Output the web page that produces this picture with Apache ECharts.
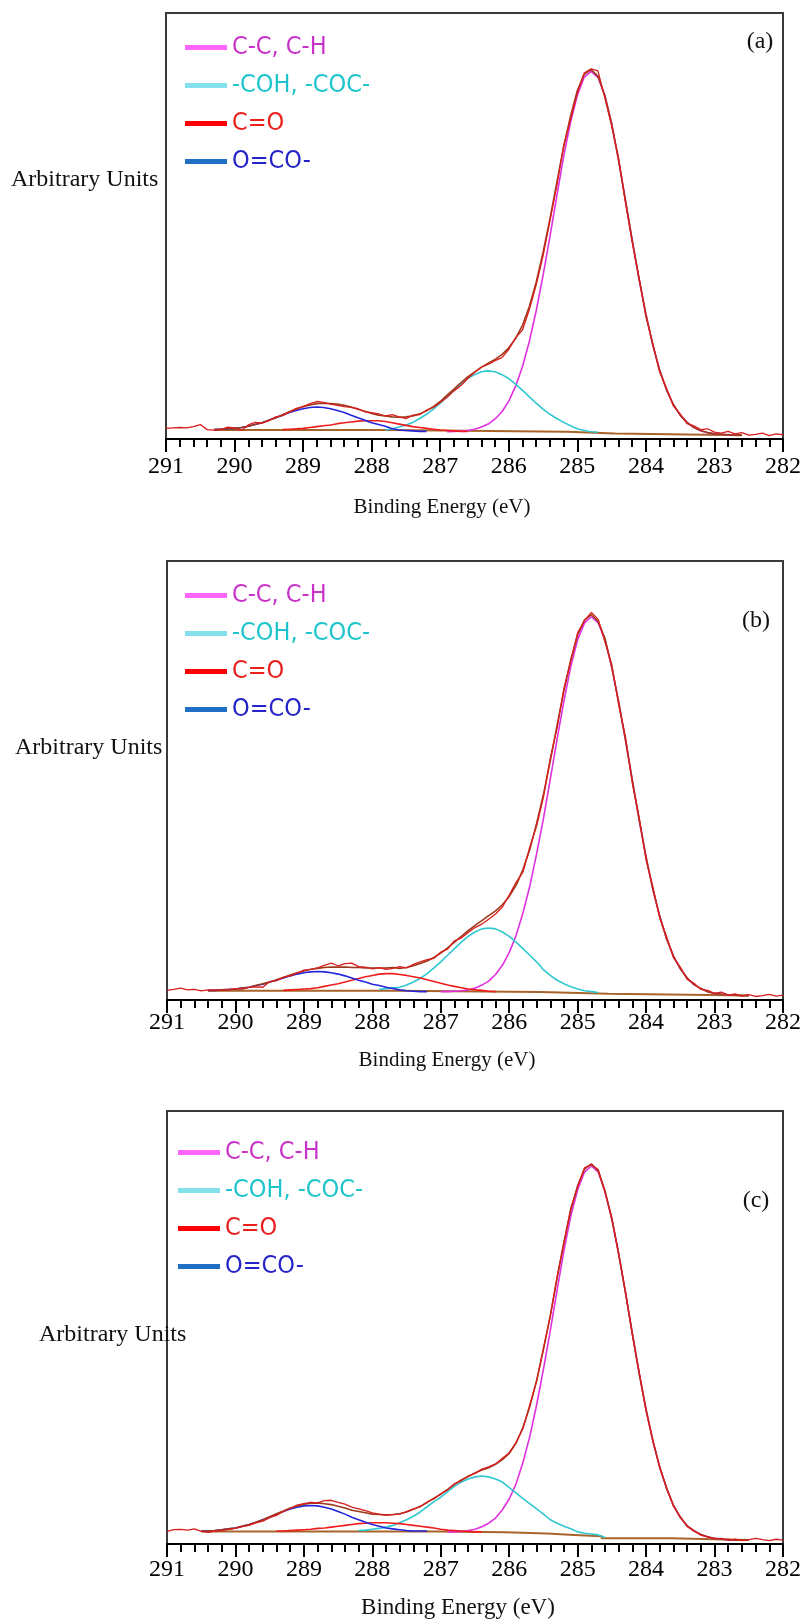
<!DOCTYPE html>
<html>
<head>
<meta charset="utf-8">
<title>C 1s XPS spectra</title>
<script src="https://cdn.jsdelivr.net/npm/echarts@6/dist/echarts.min.js"></script>
<style>
  html, body { margin: 0; padding: 0; background: #fff; }
  #chart { width: 807px; height: 1623px; }
</style>
</head>
<body>
<div id="chart"></div>
<script>
// tick labels of the binding energy axis (eV), left to right
const energyTicks = [291, 290, 289, 288, 287, 286, 285, 284, 283, 282];
const componentNames = ['C-C, C-H', '-COH, -COC-', 'C=O', 'O=CO-'];
const panelLabels = ['(a)', '(b)', '(c)'];

// ---- panel (a) ----  intensities in % of frame height, 0.1 eV apart
// raw data 291.0 -> 282.0
const rawA = [
  2.5, 2.6, 2.7, 2.6, 2.9, 3.4, 2.2, 2.1, 2.2, 2.8,        // 291.0
  2.6, 2.0, 3.3, 3.9, 3.7, 4.3, 5.2, 5.5, 6.3, 7.2,        // 290.0
  7.6, 8.3, 8.8, 8.6, 8.2, 7.9, 7.6, 7.4, 7.1, 6.4,        // 289.0
  6.2, 5.9, 5.4, 5.7, 5.2, 4.8, 5.6, 5.7, 6.8, 7.4,        // 288.0
  8.6, 9.8, 11.3, 12.5, 14.2, 15.6, 16.9, 17.5, 18.4, 19.1, // 287.0
  21.0, 23.8, 25.6, 30.4, 36.2, 43.0, 51.2, 59.4, 68.8, 75.0, // 286.0
  81.2, 85.9, 86.9, 86.4, 80.2, 73.5, 66.1, 55.7, 46.2, 37.9, // 285.0
  28.8, 22.5, 15.7, 11.9, 7.8, 5.9, 3.6, 3.1, 2.2, 2.4,    // 284.0
  1.6, 1.4, 1.8, 1.2, 1.5, 0.9, 1.1, 1.4, 0.8, 1.2,        // 283.0
  1.0                                                      // 282.0
];
// envelope 290.3 -> 282.6
const fitA = [
  2.2, 2.3, 2.4, 2.5, 2.7, 3.0, 3.4, 3.8, 4.4, 5.0,        // 290.3
  5.7, 6.4, 7.0, 7.6, 8.0, 8.3, 8.4, 8.3, 8.2, 7.9,        // 289.3
  7.5, 7.0, 6.5, 6.0, 5.6, 5.4, 5.2, 5.1, 5.2, 5.4,        // 288.3
  5.9, 6.6, 7.6, 8.8, 10.3, 11.7, 13.2, 14.6, 15.7, 16.8,  // 287.3
  17.8, 18.7, 19.8, 21.4, 23.6, 26.7, 31.1, 36.8, 43.8, 51.6, // 286.3
  60.1, 68.5, 75.7, 81.8, 85.6, 86.7, 85.2, 80.7, 74.1, 65.5, // 285.3
  56.2, 46.7, 37.6, 29.3, 22.1, 16.2, 11.6, 8.1, 5.6, 3.9, // 284.3
  2.7, 2.0, 1.5, 1.2, 1.1, 1.0, 0.9, 0.9                   // 283.3
];
const ccA = [   // 286.9 -> 282.7
  1.7, 1.8, 1.9, 2.0, 2.3, 2.8, 3.5, 4.7, 6.4, 8.9,
  12.4, 17.0, 22.9, 30.1, 38.4, 47.5, 57.0, 66.3, 74.3, 80.7,
  84.9, 86.3, 84.9, 80.7, 74.1, 65.7, 56.2, 46.7, 37.6, 29.3,
  22.1, 16.2, 11.6, 8.1, 5.6, 3.9, 2.7, 1.9, 1.5, 1.2,
  1.1, 1.0, 0.9
];
const cohA = [  // 287.8 -> 284.7
  2.1, 2.4, 2.8, 3.3, 3.9, 4.8, 5.8, 7.0, 8.4, 9.9,
  11.4, 12.9, 14.2, 15.1, 15.8, 16.0, 15.8, 15.1, 14.2, 12.9,
  11.4, 9.9, 8.4, 7.0, 5.8, 4.8, 3.9, 3.1, 2.4, 2.0,
  1.7, 1.6
];
const coA = [   // 289.3 -> 286.6
  2.2, 2.3, 2.4, 2.5, 2.7, 2.9, 3.1, 3.3, 3.6, 3.8,
  4.0, 4.2, 4.3, 4.3, 4.3, 4.1, 3.8, 3.5, 3.2, 2.9,
  2.7, 2.5, 2.3, 2.1, 2.0, 1.9, 1.8, 1.8
];
const ocoA = [  // 290.3 -> 287.2
  2.2, 2.3, 2.4, 2.5, 2.7, 3.0, 3.4, 3.8, 4.4, 5.0,
  5.6, 6.2, 6.7, 7.1, 7.4, 7.5, 7.4, 7.1, 6.7, 6.2,
  5.6, 5.0, 4.4, 3.8, 3.4, 3.0, 2.4, 2.1, 2.0, 1.9,
  1.8, 1.8
];
const bgA = [[290.3, 2.1], [287.75, 2.1], [287.75, 1.7], [285.15, 1.7], [285.15, 1.3],
             [284.45, 1.3], [284.45, 0.9], [282.6, 0.9]];

// ---- panel (b) ----
const rawB = [
  2.2, 2.4, 2.7, 2.3, 2.4, 2.1, 2.3, 2.2, 2.2, 2.3,        // 291.0
  2.6, 2.5, 2.9, 3.0, 2.9, 4.2, 4.4, 5.2, 5.5, 6.1,        // 290.0
  6.8, 7.0, 7.3, 7.9, 8.4, 7.8, 8.3, 8.4, 7.6, 7.5,        // 289.0
  7.1, 7.4, 7.0, 7.2, 7.6, 7.3, 8.1, 8.7, 9.2, 9.5,        // 288.0
  10.9, 11.6, 13.5, 14.1, 15.4, 16.5, 17.3, 18.4, 19.6, 21.2, // 287.0
  23.9, 26.8, 29.1, 34.8, 39.6, 46.2, 55.1, 62.0, 71.1, 77.2, // 286.0
  83.7, 86.4, 88.3, 86.7, 81.5, 76.3, 67.2, 59.8, 49.2, 41.5, // 285.0
  31.8, 25.7, 18.6, 14.4, 9.6, 7.5, 4.7, 3.8, 2.4, 2.2,    // 284.0
  1.5, 1.8, 1.1, 1.4, 0.9, 1.2, 0.8, 1.0, 1.3, 0.9,        // 283.0
  1.1                                                      // 282.0
];
const fitB = [  // 290.4 -> 282.5
  2.2, 2.2, 2.3, 2.4, 2.5, 2.7, 2.9, 3.3, 3.7, 4.1,
  4.6, 5.1, 5.7, 6.2, 6.6, 7.0, 7.2, 7.4, 7.5, 7.5,
  7.5, 7.4, 7.4, 7.3, 7.3, 7.3, 7.3, 7.4, 7.2, 7.4,
  7.8, 8.3, 8.9, 9.7, 10.7, 11.9, 13.2, 14.5, 15.8, 17.0,
  18.1, 19.2, 20.3, 21.7, 23.6, 26.1, 29.7, 34.3, 40.2, 46.8,
  54.5, 62.6, 70.5, 77.6, 83.2, 86.6, 87.8, 86.2, 82.3, 75.7,
  67.8, 59.1, 49.9, 40.9, 32.5, 25.1, 19.0, 13.9, 10.0, 7.1,
  5.0, 3.5, 2.6, 1.9, 1.5, 1.3, 1.2, 1.1, 1.0, 1.0
];
const ccB = [   // 287.0 -> 282.7
  1.9, 1.9, 2.0, 2.1, 2.3, 2.7, 3.4, 4.3, 5.8, 7.9,
  10.8, 14.7, 19.8, 25.9, 33.3, 41.3, 50.3, 59.5, 68.2, 76.0,
  82.1, 85.9, 87.3, 85.9, 82.1, 75.6, 67.8, 59.1, 49.9, 40.9,
  32.5, 25.1, 19.0, 13.9, 10.0, 7.1, 5.0, 3.5, 2.6, 1.9,
  1.5, 1.3, 1.2, 1.1
];
const cohB = [  // 287.9 -> 284.7
  2.4, 2.6, 2.8, 2.9, 3.4, 4.1, 4.9, 6.0, 7.3, 8.7,
  10.2, 11.7, 13.2, 14.5, 15.5, 16.2, 16.4, 16.2, 15.5, 14.5,
  13.2, 11.7, 10.2, 8.7, 6.9, 5.6, 4.5, 3.7, 3.0, 2.5,
  2.1, 1.9, 1.7
];
const coB = [   // 289.3 -> 286.2
  2.2, 2.3, 2.4, 2.5, 2.6, 2.8, 3.1, 3.4, 3.7, 4.1,
  4.5, 4.9, 5.3, 5.6, 5.9, 6.0, 6.0, 5.8, 5.6, 5.3,
  5.0, 4.6, 4.2, 3.8, 3.4, 3.1, 2.8, 2.5, 2.3, 2.2,
  2.0, 1.9
];
const ocoB = [  // 290.4 -> 287.2
  2.2, 2.2, 2.3, 2.4, 2.5, 2.7, 2.9, 3.3, 3.6, 4.1,
  4.5, 5.0, 5.5, 5.9, 6.2, 6.4, 6.5, 6.4, 6.2, 5.9,
  5.5, 5.0, 4.5, 4.1, 3.6, 3.3, 2.9, 2.6, 2.3, 2.1,
  2.0, 1.9, 1.9
];
const bgB = [[290.4, 2.1], [287.65, 2.1], [287.65, 1.8], [285.55, 1.8], [285.55, 1.4],
             [284.55, 1.4], [284.55, 1.0], [282.5, 1.0]];

// ---- panel (c) ----
const rawC = [
  2.9, 3.3, 3.4, 3.2, 3.5, 2.9, 2.7, 3.0, 3.1, 3.4,        // 291.0
  3.6, 4.0, 4.3, 4.9, 5.3, 6.1, 6.6, 7.5, 8.2, 9.0,        // 290.0
  9.3, 9.6, 9.5, 10.0, 10.1, 9.6, 9.2, 8.5, 8.1, 7.7,      // 289.0
  7.2, 6.9, 6.7, 6.8, 6.9, 7.5, 8.1, 8.6, 9.7, 10.4,       // 288.0
  11.6, 12.5, 13.9, 14.6, 15.7, 16.3, 17.3, 17.8, 18.5, 19.8, // 287.0
  21.1, 23.5, 26.6, 32.1, 37.5, 45.3, 52.5, 61.8, 69.5, 77.6, // 286.0
  82.5, 86.9, 87.6, 86.5, 81.2, 75.3, 66.7, 58.2, 48.2, 39.6, // 285.0
  30.7, 23.9, 17.5, 13.0, 8.7, 6.3, 4.0, 3.1, 2.0, 1.7,    // 284.0
  1.2, 1.3, 0.9, 1.1, 0.8, 1.0, 1.3, 1.0, 0.8, 1.1,        // 283.0
  0.9                                                      // 282.0
];
const fitC = [  // 290.5 -> 282.5
  3.0, 3.0, 3.1, 3.3, 3.5, 3.7, 4.1, 4.5, 5.0, 5.6,
  6.3, 7.0, 7.6, 8.3, 8.8, 9.2, 9.4, 9.5, 9.3, 9.1,
  8.7, 8.3, 7.8, 7.5, 7.2, 6.9, 6.8, 6.7, 6.8, 7.0,
  7.4, 8.0, 8.7, 9.6, 10.6, 11.5, 12.6, 13.8, 14.8, 15.6,
  16.4, 17.1, 17.6, 18.4, 19.5, 20.9, 23.3, 26.9, 31.7, 37.8,
  44.9, 52.8, 61.4, 69.8, 77.2, 82.8, 86.6, 87.8, 86.2, 81.5,
  75.0, 67.0, 57.9, 48.5, 39.3, 31.0, 23.7, 17.7, 12.8, 8.9,
  6.1, 4.2, 3.0, 2.2, 1.6, 1.3, 1.1, 1.0, 0.9, 0.9,
  0.9
];
const ccC = [   // 286.9 -> 282.7
  2.8, 2.8, 2.9, 3.1, 3.4, 4.0, 4.8, 6.0, 7.9, 10.4,
  13.9, 18.8, 24.8, 32.1, 40.4, 49.3, 58.7, 67.8, 75.8, 81.8,
  85.9, 87.3, 85.9, 81.3, 75.0, 67.0, 57.9, 48.5, 39.3, 31.0,
  23.7, 17.7, 12.8, 8.9, 6.1, 4.2, 3.0, 2.2, 1.6, 1.3,
  1.1, 1.0, 0.9
];
const cohC = [  // 288.2 -> 284.6
  3.1, 3.2, 3.4, 3.6, 3.9, 4.3, 4.9, 5.6, 6.4, 7.4,
  8.6, 9.8, 10.8, 12.1, 13.3, 14.3, 15.0, 15.5, 15.7, 15.5,
  15.0, 14.3, 13.0, 11.8, 10.5, 9.3, 8.1, 6.9, 5.6, 4.8,
  4.1, 3.5, 2.8, 2.5, 2.3, 2.1, 1.5
];
const coC = [   // 289.4 -> 286.4
  3.0, 3.0, 3.1, 3.2, 3.3, 3.4, 3.6, 3.7, 3.9, 4.1,
  4.3, 4.5, 4.7, 4.8, 4.9, 4.9, 4.9, 4.8, 4.7, 4.5,
  4.3, 4.1, 3.9, 3.7, 3.4, 3.2, 3.1, 3.0, 2.9, 2.8,
  2.8
];
const ocoC = [  // 290.5 -> 287.2
  3.0, 3.0, 3.1, 3.3, 3.5, 3.7, 4.1, 4.5, 5.0, 5.6,
  6.2, 6.9, 7.5, 8.1, 8.5, 8.8, 8.9, 8.8, 8.5, 8.1,
  7.5, 6.9, 6.2, 5.6, 5.0, 4.5, 4.1, 3.7, 3.5, 3.3,
  3.1, 3.0, 3.0, 3.0
];
const bgC = [[290.5, 2.9], [287.05, 2.9], [287.05, 2.7], [286.05, 2.7], [286.05, 2.4],
             [285.45, 2.4], [285.45, 2.1], [285.05, 2.1], [285.05, 1.8], [284.65, 1.8],
             [284.65, 1.3], [283.65, 1.3], [283.65, 0.9], [282.5, 0.9]];

// pair a list of readings with its energies (0.1 eV step, falling)
function along(start, vals) {
  return vals.map((v, i) => [+(start - i * 0.1).toFixed(1), v]);
}

const panels = [
  { raw: rawA, fit: along(290.3, fitA), bg: bgA,
    comps: [along(286.9, ccA), along(287.8, cohA), along(289.3, coA), along(290.3, ocoA)],
    top: 13, left: 166, height: 426, legendTop: 35, legendLeft: 185,
    labelMargin: 16, yLabel: [11, 180], title: [442, 507, 21], tag: [760, 42] },
  { raw: rawB, fit: along(290.4, fitB), bg: bgB,
    comps: [along(287.0, ccB), along(287.9, cohB), along(289.3, coB), along(290.4, ocoB)],
    top: 561, left: 167, height: 439, legendTop: 583, legendLeft: 185,
    labelMargin: 11, yLabel: [15, 748], title: [447, 1060, 21], tag: [756, 621] },
  { raw: rawC, fit: along(290.5, fitC), bg: bgC,
    comps: [along(286.9, ccC), along(288.2, cohC), along(289.4, coC), along(290.5, ocoC)],
    top: 1111, left: 167, height: 433, legendTop: 1140, legendLeft: 178,
    labelMargin: 14, yLabel: [39, 1335], title: [458, 1608, 23], tag: [756, 1201] }
];

const curveColors = ['#e030e0', '#30c8d0', '#ee1c1c', '#2424dc'];
const swatchColors = ['#ff66ff', '#84e0ea', '#ff0000', '#1f6fc4'];
const legendText = ['#c832c8', '#1ec4cc', '#e8201c', '#2424c8'];
const serif = "'Liberation Serif', 'Times New Roman', serif";

const grids = [], xAxes = [], yAxes = [], series = [], legends = [], graphics = [];

panels.forEach((p, i) => {
  grids.push({
    left: p.left, top: p.top, width: 783 - p.left, height: p.height,
    show: true, borderColor: '#3a3a3a', borderWidth: 2
  });
  xAxes.push({
    gridIndex: i, type: 'value', inverse: true,
    min: energyTicks[energyTicks.length - 1], max: energyTicks[0], interval: 1,
    axisLine: { show: true, onZero: false, lineStyle: { color: '#000', width: 2 } },
    axisTick: { show: true, inside: false, length: 13, lineStyle: { color: '#000', width: 2 } },
    minorTick: { show: true, splitNumber: 5, length: 8, lineStyle: { color: '#000', width: 2 } },
    splitLine: { show: false },
    axisLabel: { margin: p.labelMargin, color: '#000', fontFamily: serif, fontSize: 24,
                 showMinLabel: true, showMaxLabel: true }
  });
  yAxes.push({ gridIndex: i, type: 'value', min: 0, max: 100, show: false });

  const base = { type: 'line', xAxisIndex: i, yAxisIndex: i, showSymbol: false,
                 symbol: 'none', silent: true, animation: false };
  series.push(Object.assign({}, base, { name: 'background', data: p.bg,
    lineStyle: { color: '#a8642a', width: 2 }, z: 2 }));
  p.comps.forEach((c, k) => {
    series.push(Object.assign({}, base, { name: componentNames[k], data: c,
      itemStyle: { color: curveColors[k] },
      lineStyle: { color: curveColors[k], width: 1.6 }, z: 3 }));
  });
  series.push(Object.assign({}, base, { name: 'envelope', data: p.fit,
    lineStyle: { color: '#9c3a1c', width: 1.6 }, z: 4 }));
  series.push(Object.assign({}, base, { name: 'data',
    data: p.raw.map((v, k) => [+(291 - k * 0.1).toFixed(1), v]),
    lineStyle: { color: '#d81e1e', width: 1.3 }, z: 5 }));

  legends.push({
    orient: 'vertical', left: p.legendLeft, top: p.legendTop, padding: 0,
    icon: 'rect', itemWidth: 42, itemHeight: 5, itemGap: 13, selectedMode: false,
    textStyle: { fontFamily: "'Liberation Sans Narrow', 'DejaVu Sans Condensed', 'Liberation Sans', sans-serif",
                 fontSize: 25, lineHeight: 24 },
    data: componentNames.map((n, k) => ({
      name: n, itemStyle: { color: swatchColors[k] }, lineStyle: { color: swatchColors[k] },
      textStyle: { color: legendText[k] }
    }))
  });

  graphics.push({ type: 'text', left: p.yLabel[0], top: p.yLabel[1] - 12,
    style: { text: 'Arbitrary Units', font: '24px ' + serif, fill: '#111' } });
  graphics.push({ type: 'text', x: p.title[0], y: p.title[1],
    style: { text: 'Binding Energy (eV)', font: p.title[2] + 'px ' + serif, fill: '#111',
             align: 'center', verticalAlign: 'middle' } });
  graphics.push({ type: 'text', x: p.tag[0], y: p.tag[1],
    style: { text: panelLabels[i], font: '24px ' + serif, fill: '#111',
             align: 'center', verticalAlign: 'middle' } });
});

const chart = echarts.init(document.getElementById('chart'));
chart.setOption({
  animation: false,
  backgroundColor: '#fff',
  grid: grids,
  xAxis: xAxes,
  yAxis: yAxes,
  legend: legends,
  series: series,
  graphic: graphics
});
</script>
</body>
</html>
